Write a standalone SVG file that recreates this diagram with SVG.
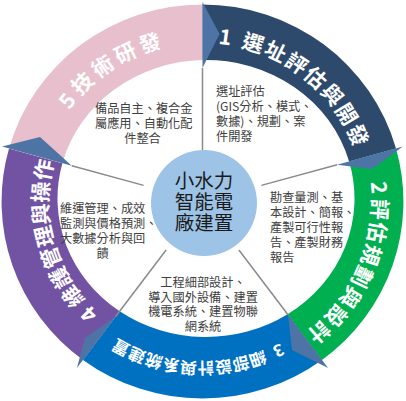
<svg xmlns="http://www.w3.org/2000/svg" width="406" height="401" viewBox="0 0 406 401">
<style>
.title{font-family:"Noto Sans CJK TC","Noto Sans CJK SC",sans-serif;font-weight:bold;fill:#ffffff}
.body{font-family:"Noto Sans CJK TC","Noto Sans CJK SC",sans-serif;font-size:12.2px;fill:#404040}
.core{font-family:"Noto Sans CJK TC","Noto Sans CJK SC",sans-serif;font-size:19.5px;fill:#1a1a1a;text-anchor:middle}
.spoke{stroke:#8a8a8a;stroke-width:1.5;fill:none}
.tip{fill:#4e74a6}
</style>
<defs>
<path id="p1" d="M 0,-158.3 A 158.3 158.3 0 1 1 0,158.3 A 158.3 158.3 0 1 1 0,-158.3"/>
<path id="p2" d="M 0,-166 A 166 166 0 1 1 0,166 A 166 166 0 1 1 0,-166"/>
<path id="p3" d="M 0,-160.5 A 160.5 160.5 0 1 1 0,160.5 A 160.5 160.5 0 1 1 0,-160.5"/>
<path id="p4" d="M 0,-151 A 151 151 0 1 1 0,151 A 151 151 0 1 1 0,-151"/>
<path id="p5" d="M 0,-159 A 159 159 0 1 1 0,159 A 159 159 0 1 1 0,-159"/>
</defs>
<rect width="406" height="401" fill="#ffffff"/>

<g id="seg1">
<path fill="#2d4a6c" d="M 202.5,60 L 202.5,4.5 A 201 197 0 0 1 396,148.5 L 349.1,161.4 A 148.5 138.5 0 0 0 202.5,60 Z"/>
<text class="body"><tspan x="216" y="95.5">選址評估</tspan><tspan x="216" y="110.5">(GIS分析、模式、</tspan><tspan x="216" y="125.5">數據)、規劃、案</tspan><tspan x="216" y="140.5">件開發</tspan></text>
</g>
<g id="seg2">
<path fill="#00b050" d="M 349.1,161.4 L 396,148.5 A 201 197 0 0 1 322,359.9 L 287.6,314.2 A 148.5 138.5 0 0 0 349.1,161.4 Z"/>
<text class="body"><tspan x="270" y="201.5">勘查量測、基</tspan><tspan x="270" y="216.5">本設計、簡報、</tspan><tspan x="270" y="231.5">產製可行性報</tspan><tspan x="270" y="246.5">告、產製財務</tspan><tspan x="270" y="261.5">報告</tspan></text>
</g>
<g id="seg3">
<path fill="#0070c0" d="M 287.6,314.2 L 322,359.9 A 201 197 0 0 1 83,359.9 L 119.7,311.2 A 148.5 138.5 0 0 0 287.6,314.2 Z"/>
<text class="body" text-anchor="middle"><tspan x="203" y="286.5">工程細部設計、</tspan><tspan x="203" y="301.5">導入國外設備、建置</tspan><tspan x="203" y="316">機電系統、建置物聯</tspan><tspan x="203" y="330.5">網系統</tspan></text>
</g>
<g id="seg4">
<path fill="#7253a3" d="M 119.7,311.2 L 83,359.9 A 201 197 0 0 1 9,148.5 L 62.4,163.15 A 148.5 138.5 0 0 0 119.7,311.2 Z"/>
<text class="body"><tspan x="60" y="212.5">維運管理、成效</tspan><tspan x="60" y="227.5">監測與價格預測、</tspan><tspan x="60" y="242.5">大數據分析與回</tspan><tspan x="102.5" y="257.5" text-anchor="middle">饋</tspan></text>
</g>
<g id="seg5">
<path fill="#e7bfcd" d="M 62.4,163.15 L 9,148.5 A 201 197 0 0 1 202.5,4.5 L 202.5,60 A 148.5 138.5 0 0 0 62.4,163.15 Z"/>
<text class="body"><tspan x="95" y="112.5">備品自主、複合金</tspan><tspan x="95" y="127.5">屬應用、自動化配</tspan><tspan x="142.5" y="142.5" text-anchor="middle">件整合</tspan></text>
</g>

<g id="connectors">
<line class="spoke" x1="202.5" y1="150" x2="202.5" y2="68"/>
<line class="spoke" x1="261.4" y1="185.4" x2="337.1" y2="164.7"/>
<line class="spoke" x1="238.9" y1="250" x2="288" y2="314.8"/>
<line class="spoke" x1="166.1" y1="250" x2="115.7" y2="316.5"/>
<line class="spoke" x1="143.6" y1="185.4" x2="71.8" y2="165.7"/>
<polygon class="tip" points="202.5,68 202.5,2 219.5,34"/>
<polygon class="tip" points="337.1,164.7 402.9,146.6 372,169"/>
<polygon class="tip" points="288,314.8 328.1,367.9 292,350"/>
<polygon class="tip" points="115.7,316.5 76.9,367.9 85,338"/>
<polygon class="tip" points="71.8,165.7 2.1,146.6 40,137"/>
</g>

<g id="titles" transform="translate(202.5,201.5) scale(1.02,1)">
<text class="title" font-size="21" text-anchor="middle"><textPath href="#p1" startOffset="21.5">1</textPath></text>
<text class="title" font-size="21" letter-spacing="1.6" text-anchor="middle"><textPath href="#p1" startOffset="116.5">選址評估與開發</textPath></text>
<text class="title" font-size="21" text-anchor="middle"><textPath href="#p2" startOffset="247.4">2</textPath></text>
<text class="title" font-size="21" letter-spacing="1.3" text-anchor="middle"><textPath href="#p2" startOffset="335.8">評估規劃與設計</textPath></text>
<text class="title" font-size="16.5" text-anchor="middle"><textPath href="#p3" startOffset="429.7">3</textPath></text>
<text class="title" font-size="16.5" letter-spacing="0.2" text-anchor="middle"><textPath href="#p3" startOffset="517.7">細部設計與系統建置</textPath></text>
<text class="title" font-size="21" text-anchor="middle"><textPath href="#p4" startOffset="591.9">4</textPath></text>
<text class="title" font-size="21" letter-spacing="0.2" text-anchor="middle"><textPath href="#p4" startOffset="678">維護管理與操作</textPath></text>
<text class="title" font-size="21" text-anchor="middle"><textPath href="#p5" startOffset="852.5">5</textPath></text>
<text class="title" font-size="21" letter-spacing="3.8" text-anchor="middle"><textPath href="#p5" startOffset="913.3">技術研發</textPath></text>
</g>

<g id="center">
<circle cx="204" cy="203" r="53" fill="#9dc3e6"/>
<text class="core"><tspan x="204" y="187.5">小水力</tspan><tspan x="204" y="208.5">智能電</tspan><tspan x="204" y="229.5">廠建置</tspan></text>
</g>
</svg>
